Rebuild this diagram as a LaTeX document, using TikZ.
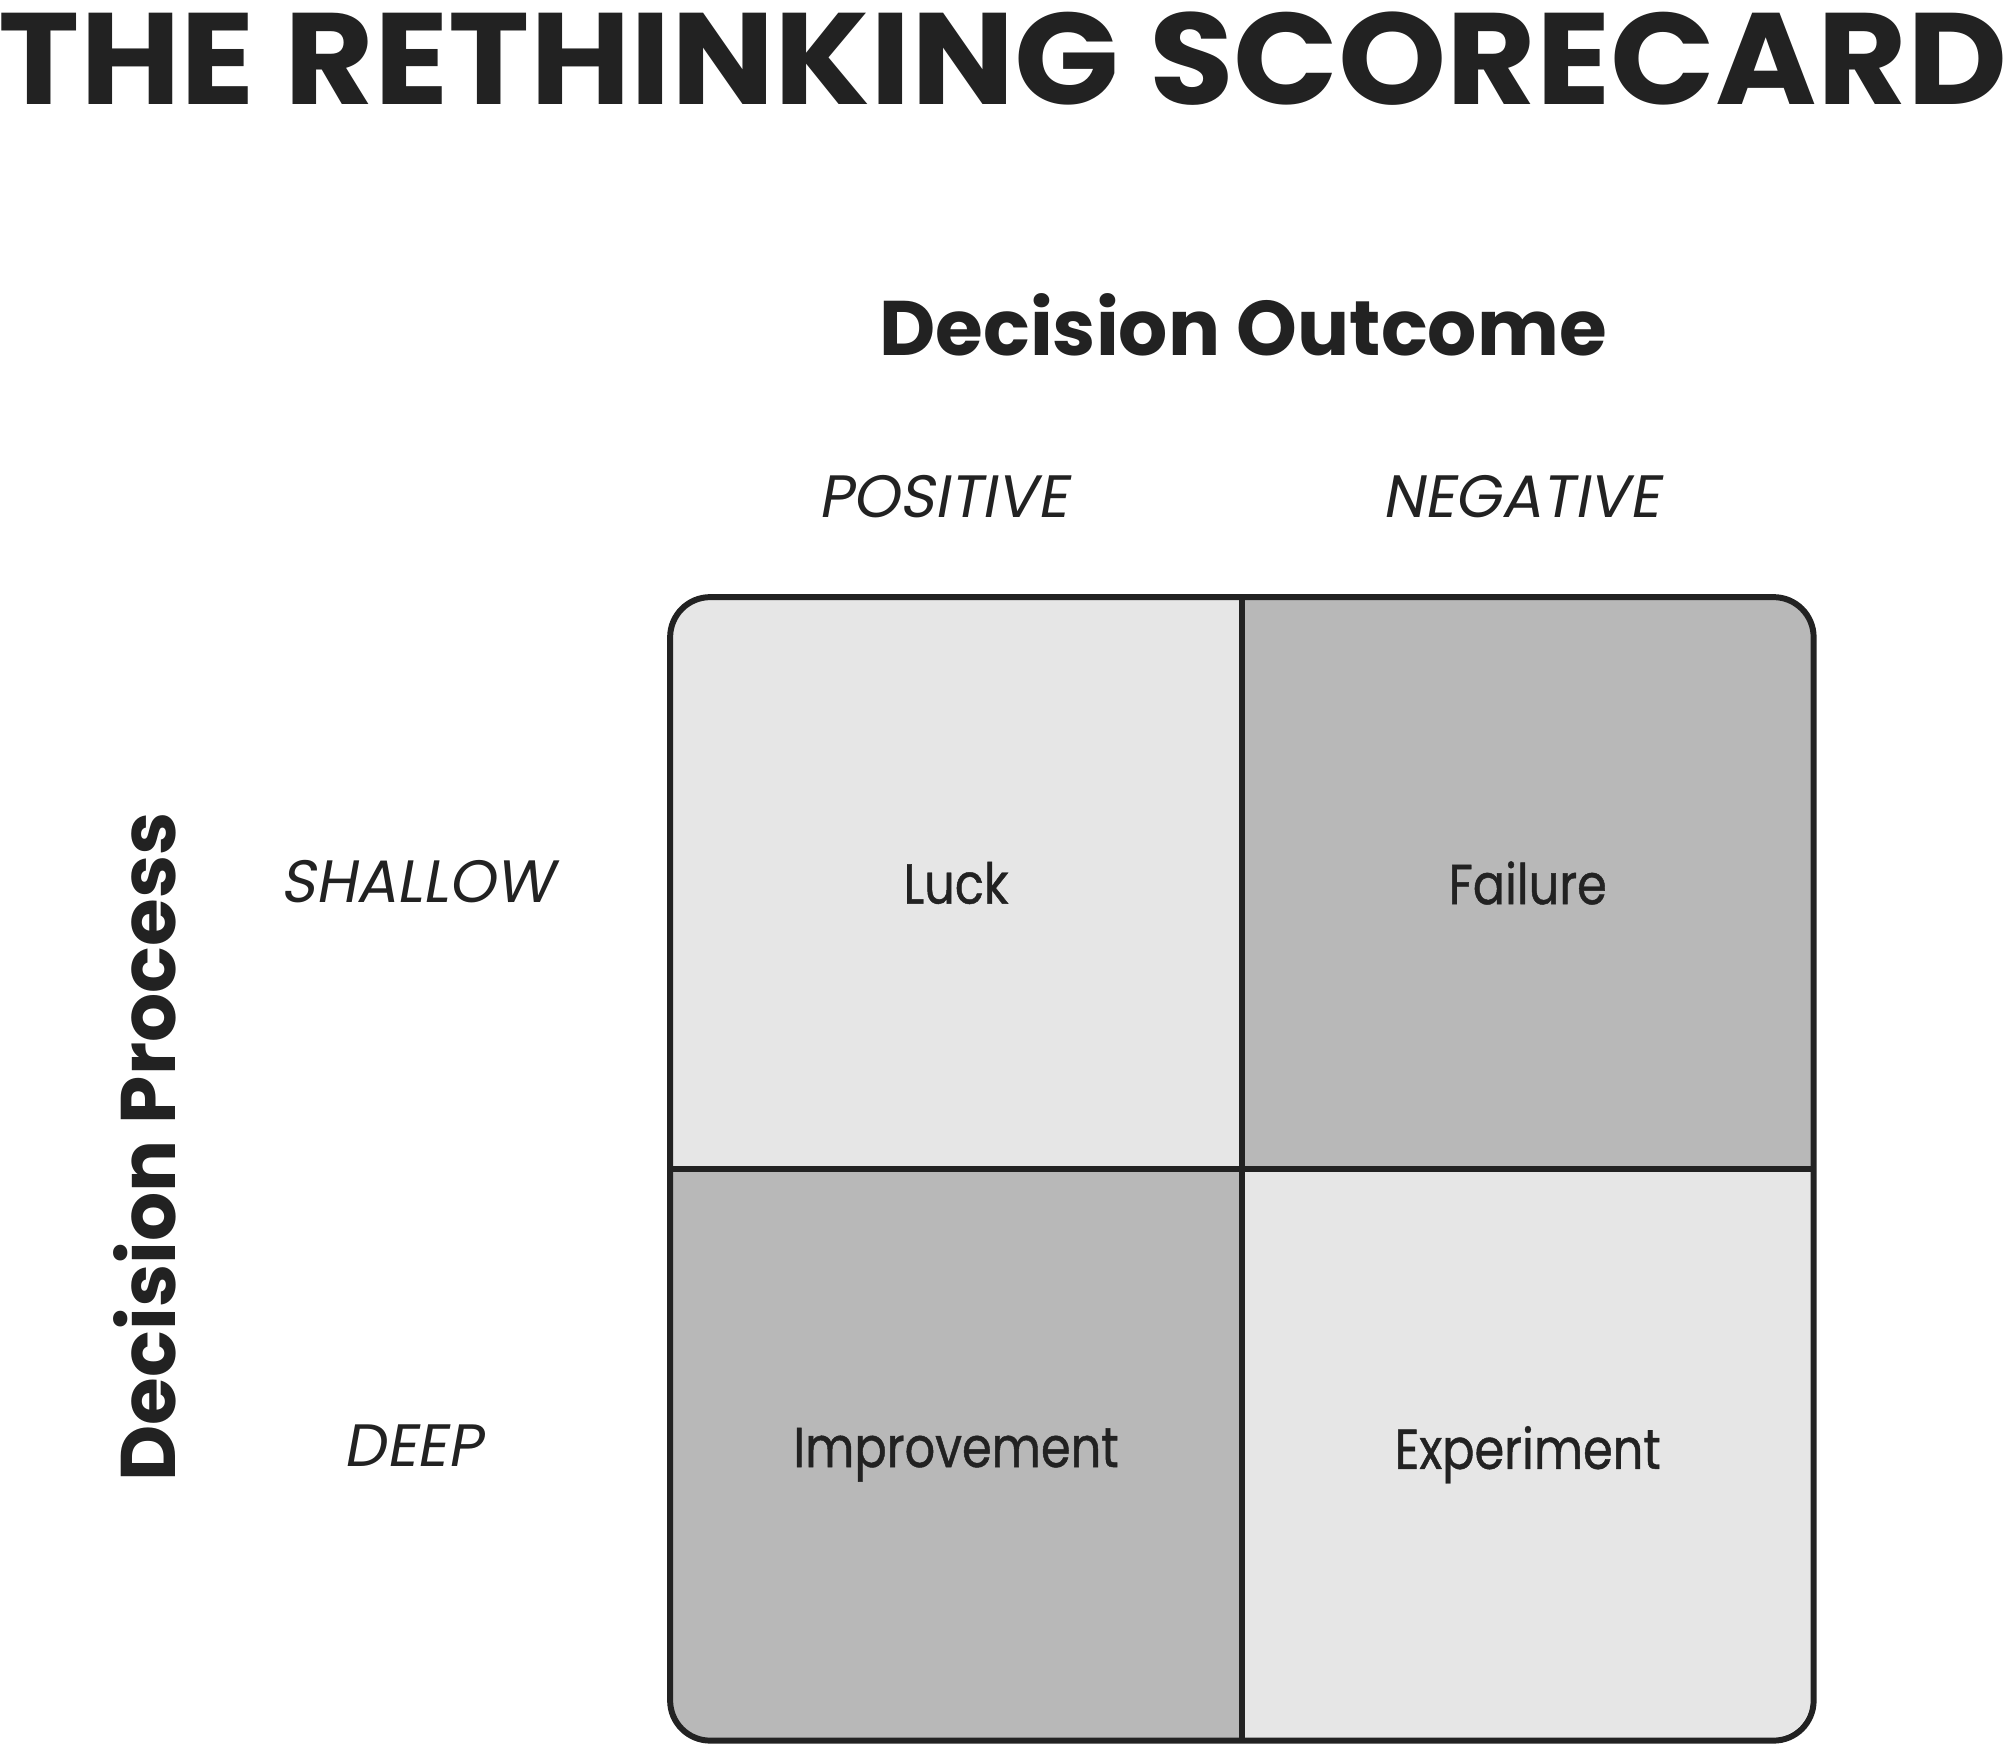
\documentclass[tikz,border=0pt]{standalone}
\usepackage{fontspec}
\setmainfont{Poppins}
\newfontfamily\slanted[FakeSlant=0.18]{Poppins}
\newfontfamily\cellfont[FakeStretch=0.85, FakeBold=0.8]{Poppins}
\usepackage{tikz}
\usetikzlibrary{positioning}
\definecolor{ink}{HTML}{222222}
\definecolor{pale}{HTML}{E6E6E6}
\definecolor{shade}{HTML}{B8B8B8}
\tikzstyle{cell} = [rectangle, minimum width=5.7cm, minimum height=5.7cm,
    inner sep=0pt, text=ink, font=\cellfont\fontsize{16}{19}\selectfont]
\tikzstyle{palecell} = [cell, fill=pale]
\tikzstyle{darkcell} = [cell, fill=shade]
\tikzstyle{axistitle} = [text=ink, font=\bfseries\fontsize{22}{26}\selectfont]
\tikzstyle{level} = [text=ink, font=\slanted\fontsize{17}{20}\selectfont]
\tikzstyle{gridline} = [draw=ink, line width=1.7pt]

\begin{document}
\begin{tikzpicture}[x=0.01cm,y=-0.01cm]
\useasboundingbox (0,0) rectangle (2007,1743);

\node [text=ink, font=\bfseries\fontsize{37}{40}\selectfont, anchor=base] (title)
    at (1003,105) {\scalebox{1.058}[1]{THE RETHINKING SCORECARD}};

\node [axistitle, anchor=base] (outcome) at (1243,356) {Decision Outcome};
\node [level, anchor=base] (positive) at (943,518) {POSITIVE};
\node [level, anchor=base] (negative) at (1521,518) {NEGATIVE};

\node [axistitle, anchor=base, rotate=90] (process) at (175,1147) {Decision Process};
\node [level, anchor=base] (shallow) at (417,902) {SHALLOW};
\node [level, anchor=base] (deep) at (413,1466) {DEEP};

% the four cells
\begin{scope}
\clip [rounded corners=0.4cm] (671,598) rectangle (1811,1738);
\node [palecell] (luck) at (956,883) {Luck};
\node [darkcell, right=0pt of luck] (failure) {Failure};
\node [darkcell, below=0pt of luck] (improvement) {Improvement};
\node [palecell, right=0pt of improvement] (experiment) {Experiment};
\end{scope}

\draw [gridline, rounded corners=0.4cm] (luck.north west) rectangle (experiment.south east);
\draw [gridline] (luck.north east) -- (improvement.south east);
\draw [gridline] (luck.south west) -- (failure.south east);

\end{tikzpicture}
\end{document}
